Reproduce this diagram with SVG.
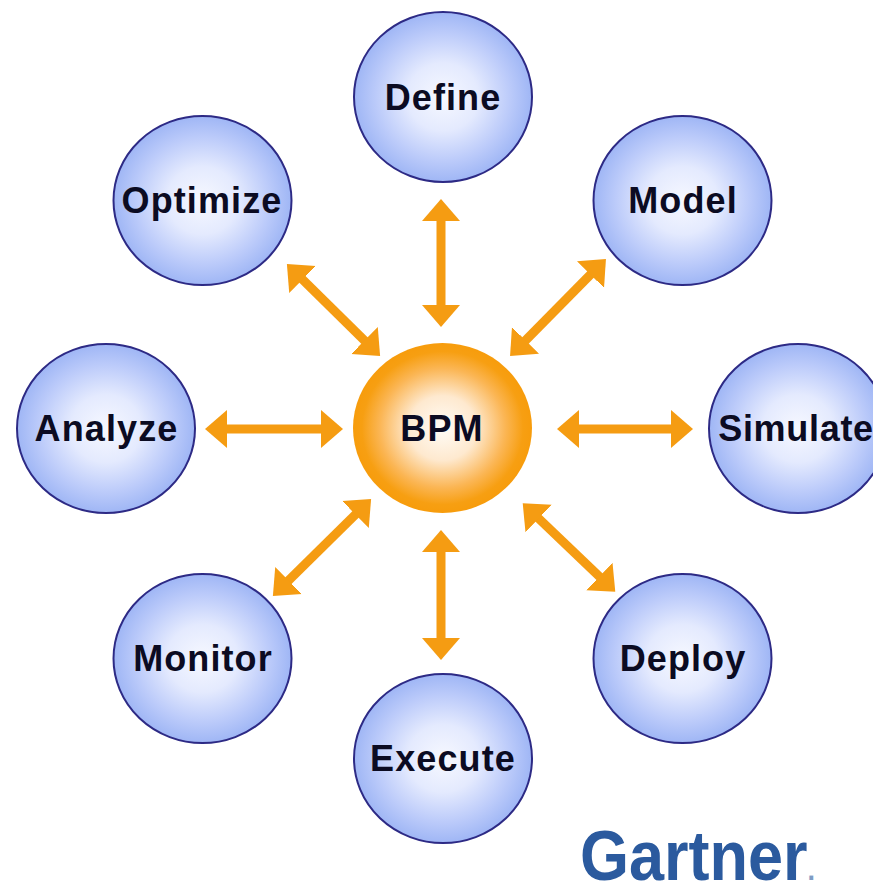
<svg xmlns="http://www.w3.org/2000/svg" width="873" height="884" viewBox="0 0 873 884">
<style>
.n{fill:url(#blue);stroke:#2d2a85;stroke-width:2}
.t{font-family:"Liberation Sans",Arial,sans-serif;font-weight:700;font-size:36px;letter-spacing:1.1px;fill:#0b0b22;text-anchor:middle}
.a{stroke:#f59c12;stroke-width:9;fill:none;marker-start:url(#h);marker-end:url(#h)}
</style>
<defs>
<radialGradient id="blue" cx="50%" cy="50%" r="50%">
<stop offset="0" stop-color="#f6f8ff"/><stop offset="0.4" stop-color="#e4eafe"/><stop offset="0.75" stop-color="#bccbfa"/><stop offset="1" stop-color="#9fb6f5"/>
</radialGradient>
<radialGradient id="orange" cx="50%" cy="50%" r="50%">
<stop offset="0" stop-color="#fffcf7"/><stop offset="0.38" stop-color="#fee9cf"/><stop offset="0.7" stop-color="#fbb655"/><stop offset="0.9" stop-color="#f79f12"/><stop offset="1" stop-color="#f79c0c"/>
</radialGradient>
<marker id="h" markerUnits="userSpaceOnUse" markerWidth="26" markerHeight="40" viewBox="0 -20 26 40" refX="5" refY="0" orient="auto-start-reverse">
<path d="M0,-19 L22,0 L0,19Z" fill="#f59c12"/>
</marker>
</defs>
<rect width="873" height="884" fill="#ffffff"/>
<g id="connectors">
<line class="a" x1="441" y1="216" x2="441" y2="310"/>
<line class="a" x1="594" y1="271" x2="522" y2="344"/>
<line class="a" x1="574" y1="429" x2="676" y2="429"/>
<line class="a" x1="535" y1="515" x2="603" y2="580"/>
<line class="a" x1="441" y1="547" x2="441" y2="643"/>
<line class="a" x1="359" y1="511" x2="285" y2="584"/>
<line class="a" x1="326" y1="429" x2="222" y2="429"/>
<line class="a" x1="368" y1="344" x2="299" y2="276"/>
</g>
<g id="define"><ellipse class="n" cx="443" cy="97" rx="89" ry="85"/><text class="t" x="443" y="110">Define</text></g>
<g id="model"><ellipse class="n" cx="682.500" cy="200.500" rx="89" ry="84.500"/><text class="t" x="683" y="213">Model</text></g>
<g id="simulate"><ellipse class="n" cx="798" cy="428.500" rx="89" ry="84.500"/><text class="t" x="796" y="441" style="letter-spacing:.7px">Simulate</text></g>
<g id="deploy"><ellipse class="n" cx="682.500" cy="658.500" rx="89" ry="84.500"/><text class="t" x="683" y="671">Deploy</text></g>
<g id="execute"><ellipse class="n" cx="443" cy="758.500" rx="89" ry="84.500"/><text class="t" x="443" y="771">Execute</text></g>
<g id="monitor"><ellipse class="n" cx="202.500" cy="658.500" rx="89" ry="84.500"/><text class="t" x="203" y="671">Monitor</text></g>
<g id="analyze"><ellipse class="n" cx="106" cy="428.500" rx="89" ry="84.500"/><text class="t" x="106.500" y="441">Analyze</text></g>
<g id="optimize"><ellipse class="n" cx="202.500" cy="200.500" rx="89" ry="84.500"/><text class="t" x="202" y="213">Optimize</text></g>
<g id="bpm"><ellipse cx="442.500" cy="428" rx="89.500" ry="85" fill="url(#orange)"/><text class="t" x="442" y="441">BPM</text></g>
<g id="gartner"><text transform="translate(580,880) scale(.9,1)" font-family="'Liberation Sans',Arial,sans-serif" font-weight="700" font-size="70" fill="#2b5a9e">Gartner<tspan font-size="30" fill="#7f9cc4">.</tspan></text></g>
</svg>
